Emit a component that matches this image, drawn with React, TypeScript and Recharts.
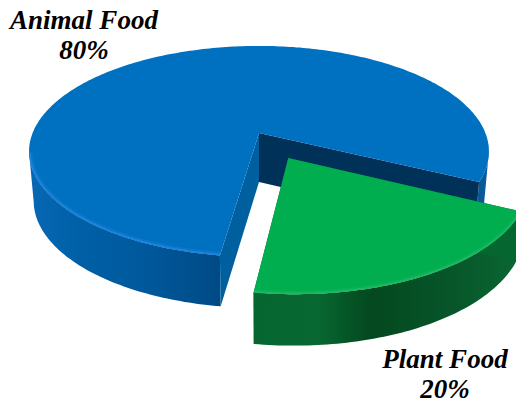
import { Pie, PieChart } from "recharts";

const categories = ["Animal Food", "Plant Food"];
const shares = [80, 20];

const foodData = categories.map((name, i) => ({ name, value: shares[i] }));

// tilt of the disc: near edge is drawn larger than the far edge
const PERSPECTIVE = 0.175;
const SQUASH = 102.3 / 226.4;
const DEPTH = 49;
const FLOOR_SHRINK = 0.98;

type Tone = {
  top: string;
  rim: string;
  wall: string;
  cutA: string;
  cutB: string;
  explode: number;
};

const tones: Record<string, Tone> = {
  "Animal Food": {
    top: "#0070c0",
    rim: "#1c83da",
    wall: "url(#blueWall)",
    cutA: "#00609f",
    cutB: "#003159",
    explode: 0,
  },
  "Plant Food": {
    top: "#00ad4f",
    rim: "#1db862",
    wall: "url(#greenWall)",
    cutA: "#066630",
    cutB: "#066630",
    explode: 0.266,
  },
};

const labelSpots: Record<string, { x: number; y: number }> = {
  "Animal Food": { x: 84, y: 29 },
  "Plant Food": { x: 445, y: 368 },
};

const toPath = (pts: number[][]) =>
  pts.map((p, i) => `${i ? "L" : "M"}${p[0].toFixed(1)} ${p[1].toFixed(1)}`).join(" ");

// Pie slice seen from above at an angle, with a solid side wall
const TiltedSlice = (props: any) => {
  const { cx, cy, outerRadius, startAngle, endAngle, midAngle, name } = props;
  const tone = tones[name];
  const clipId = `top-${name.replace(" ", "-")}`;
  const rad = (a: number) => (a * Math.PI) / 180;
  const ox = tone.explode * Math.cos(rad(midAngle));
  const oy = -tone.explode * Math.sin(rad(midAngle));

  const top = (x: number, y: number) => {
    const w = 1 - PERSPECTIVE * y;
    return [cx + (outerRadius * x) / w, cy + (outerRadius * SQUASH * y) / w];
  };
  const floor = (p: number[]) => [cx + (p[0] - cx) * FLOOR_SHRINK, p[1] + DEPTH + (p[1] - cy) * 0.015];

  const steps = Math.ceil(Math.abs(endAngle - startAngle));
  const arc: number[][] = [];
  const walls: number[][][] = [[]];
  const rim: number[][] = [];
  for (let i = 0; i <= steps; i++) {
    const a = rad(startAngle + ((endAngle - startAngle) * i) / steps);
    const x = Math.cos(a);
    const y = -Math.sin(a);
    const p = top(x + ox, y + oy);
    arc.push(p);
    // wall stops at the silhouette point, the far side is hidden by the top face
    if (y >= PERSPECTIVE) walls[walls.length - 1].push(p);
    else if (walls[walls.length - 1].length) walls.push([]);
    if (y >= PERSPECTIVE && i === rim.length) rim.push(p);
  }
  const apex = top(ox, oy);
  const first = arc[0];
  const last = arc[arc.length - 1];
  const face = `${toPath([apex, ...arc])} Z`;

  return (
    <g>
      <clipPath id={clipId}>
        <path d={face} />
      </clipPath>
      {walls
        .filter((w) => w.length > 1)
        .map((w, i) => (
          <path key={i} d={`${toPath([...w, ...w.map(floor).reverse()])} Z`} fill={tone.wall} />
        ))}
      <path d={`${toPath([apex, last, floor(last), floor(apex)])} Z`} fill={tone.cutB} />
      <path d={`${toPath([apex, first, floor(first), floor(apex)])} Z`} fill={tone.cutA} />
      <path d={face} fill={tone.top} />
      <g clipPath={`url(#${clipId})`}>
        <path d={toPath(rim)} fill="none" stroke={tone.rim} strokeOpacity={0.35} strokeWidth={7} />
        <path d={toPath(rim)} fill="none" stroke={tone.rim} strokeWidth={3.5} />
      </g>
    </g>
  );
};

const SliceLabel = (props: any) => {
  const spot = labelSpots[props.name];
  return (
    <text
      x={spot.x}
      y={spot.y}
      textAnchor="middle"
      fontFamily="'Liberation Serif', serif"
      fontWeight="bold"
      fontStyle="italic"
      fontSize={27}
      fill="#000"
    >
      <tspan x={spot.x}>{props.name}</tspan>
      <tspan x={spot.x} dy={30}>
        {props.value}%
      </tspan>
    </text>
  );
};

export default function App() {
  return (
    <div style={{ position: "absolute", left: 0, top: 0 }}>
      <PieChart width={516} height={406} margin={{ top: 0, right: 0, bottom: 0, left: 0 }}>
        <defs>
          <linearGradient id="blueWall" gradientUnits="userSpaceOnUse" x1={28} y1={0} x2={488} y2={0}>
            <stop offset="0" stopColor="#0868b4" />
            <stop offset="0.1" stopColor="#0060a8" />
            <stop offset="0.25" stopColor="#00599c" />
            <stop offset="0.42" stopColor="#004a85" />
            <stop offset="0.9" stopColor="#00497f" />
            <stop offset="1" stopColor="#0a5c9c" />
          </linearGradient>
          <linearGradient id="greenWall" gradientUnits="userSpaceOnUse" x1={251} y1={0} x2={516} y2={0}>
            <stop offset="0" stopColor="#066630" />
            <stop offset="0.25" stopColor="#076831" />
            <stop offset="0.45" stopColor="#04481f" />
            <stop offset="0.75" stopColor="#07552a" />
            <stop offset="1" stopColor="#0a6632" />
          </linearGradient>
        </defs>
        <Pie
          data={foodData}
          dataKey="value"
          nameKey="name"
          cx={259}
          cy={133}
          outerRadius={226.4}
          startAngle={-98.2}
          endAngle={-458.2}
          stroke="none"
          shape={TiltedSlice}
          label={SliceLabel}
          labelLine={false}
          isAnimationActive={false}
        />
      </PieChart>
    </div>
  );
}
